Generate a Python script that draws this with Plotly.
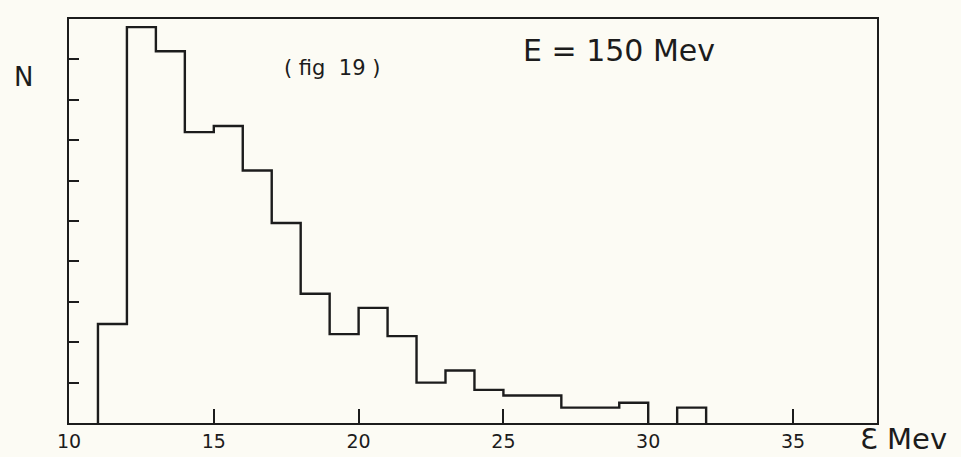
import plotly.graph_objects as go

# Histogram of epsilon (MeV), counts in units of the (unlabelled) N ticks
bin_edges = [11, 12, 13, 14, 15, 16, 17, 18, 19, 20, 21, 22, 23, 24, 25, 27, 29, 30]
counts = [2.45, 9.8, 9.2, 7.2, 7.35, 6.25, 4.95, 3.2, 2.2, 2.85, 2.15, 1.0, 1.3, 0.82, 0.68, 0.38, 0.5]
extra_edges = [31, 32]
extra_counts = [0.38]

x_ticks = [10, 15, 20, 25, 30, 35]
x_tick_labels = ["10", "15", "20", "25", "30", "35"]
y_ticks = [1, 2, 3, 4, 5, 6, 7, 8, 9]

ink = "#1c1c1c"
bg = "#fcfbf4"


def step_xy(edges, vals):
    xs = [edges[0]] + list(edges)
    ys = [0] + list(vals) + [0]
    return xs, ys


fig = go.Figure()
for e, v in ((bin_edges, counts), (extra_edges, extra_counts)):
    xs, ys = step_xy(e, v)
    fig.add_trace(go.Scatter(x=xs, y=ys, mode="lines", line=dict(color=ink, width=2.4, shape="hv"),
                             hoverinfo="skip", showlegend=False))

font_family = "DejaVu Sans"
fig.update_layout(
    width=961, height=457,
    margin=dict(l=69, r=84, t=19, b=34),
    paper_bgcolor=bg, plot_bgcolor=bg,
    showlegend=False,
    font=dict(family=font_family, color=ink),
    xaxis=dict(range=[10, 37.9], tickmode="array", tickvals=x_ticks, ticktext=x_tick_labels,
               ticks="inside", ticklen=14, tickwidth=2, tickcolor=ink,
               showline=True, linecolor=ink, linewidth=2, mirror=True, automargin=False,
               showgrid=False, zeroline=False, tickfont=dict(size=19, color=ink, family=font_family)),
    yaxis=dict(range=[0, 10], tickmode="array", tickvals=y_ticks, ticktext=[""] * len(y_ticks),
               ticks="inside", ticklen=10, tickwidth=2, tickcolor=ink, automargin=False,
               showline=True, linecolor=ink, linewidth=2, mirror=True,
               showgrid=False, zeroline=False),
)

# text labels placed at pixel positions converted into paper coordinates
W, H = 961, 457
l, r, t, b = 69, 84, 19, 34
pw, ph = W - l - r, H - t - b
labels = [
    ("N", 23, 77, 26),
    ("( fig  19 )", 332, 68, 21),
    ("E = 150 Mev", 619, 51, 30),
    ("Ɛ Mev", 903, 439, 29),
]
anns = []
for text, px, py, s in labels:
    anns.append(dict(text=text, xref="paper", yref="paper",
                     x=(px - l) / pw, y=1 - (py - t) / ph,
                     xanchor="center", yanchor="middle", showarrow=False,
                     font=dict(size=s, color=ink, family=font_family)))
fig.update_layout(annotations=anns)

fig.write_html("out.html")
